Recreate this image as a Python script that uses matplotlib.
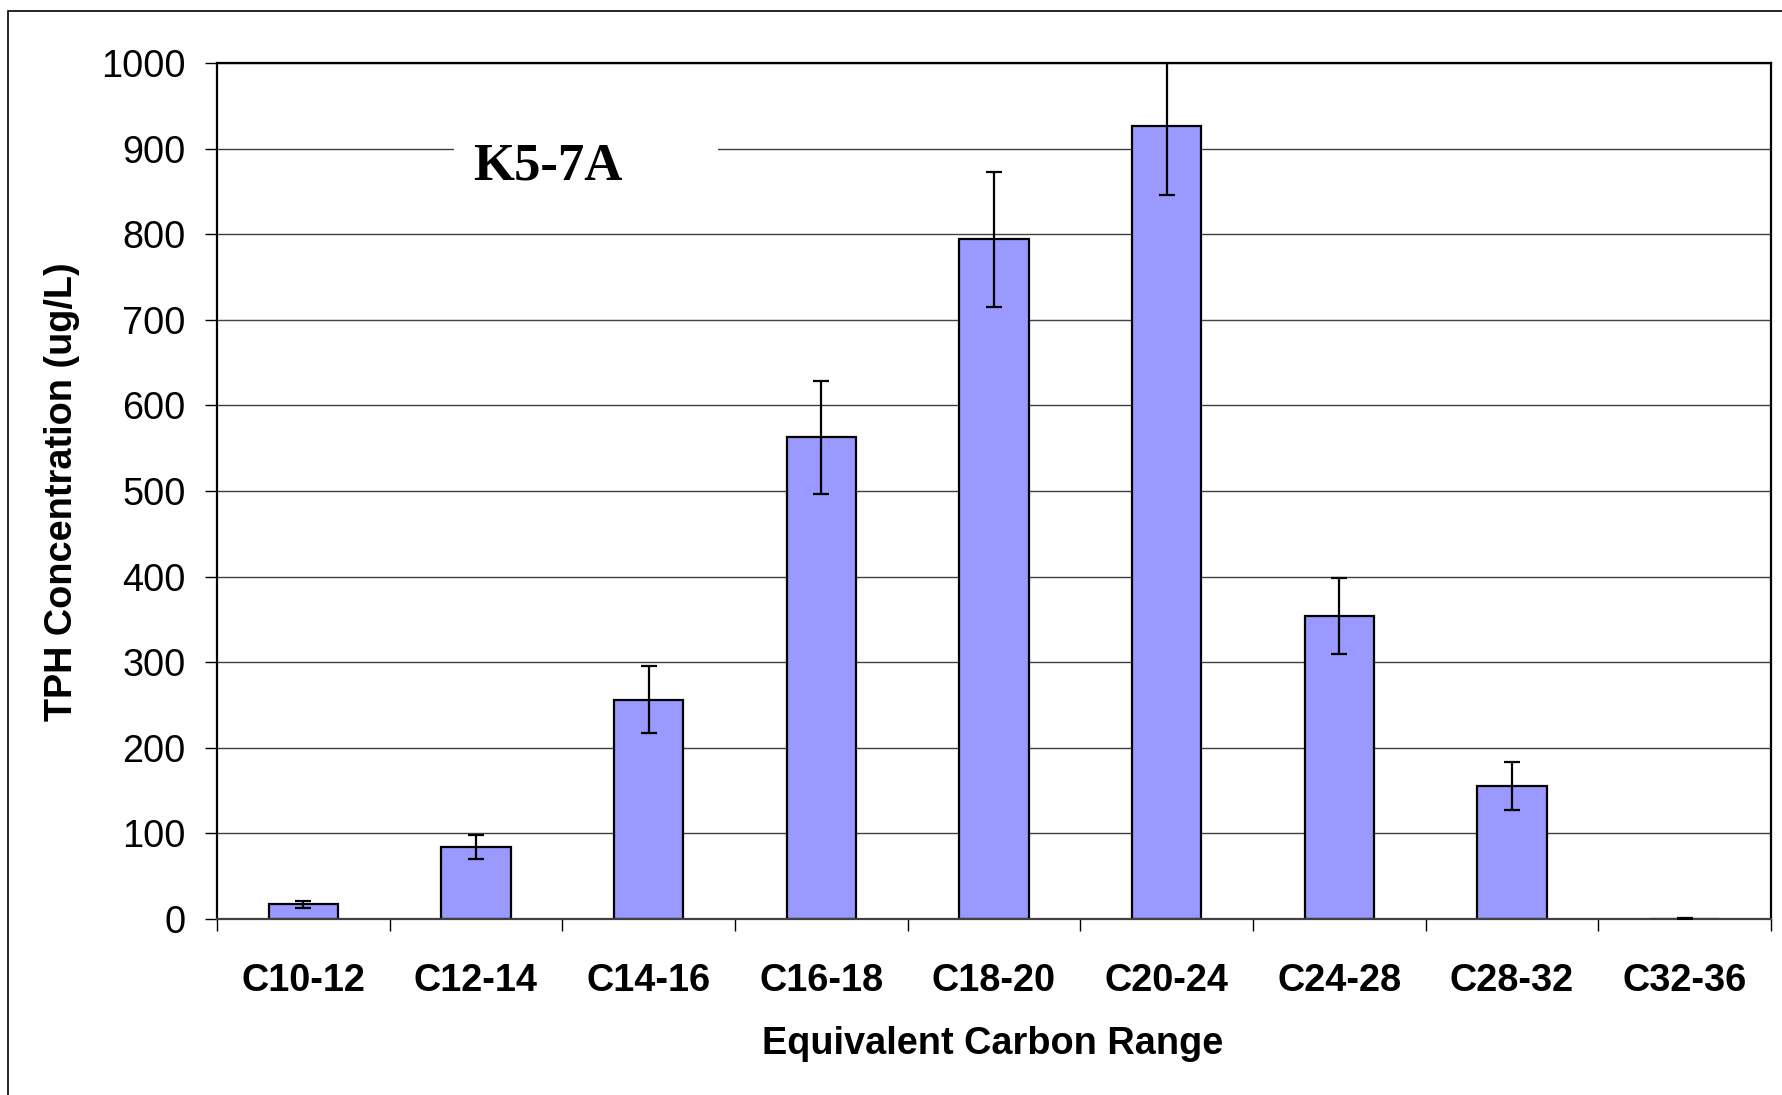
import matplotlib
matplotlib.use("Agg")
import matplotlib.pyplot as plt
from matplotlib.patches import Rectangle
import numpy as np

categories = ["C10-12", "C12-14", "C14-16", "C16-18", "C18-20", "C20-24", "C24-28", "C28-32", "C32-36"]
values = [17, 84, 256, 563, 794, 926, 354, 155, 0.3]
errors = [4, 14, 39, 66, 79, 80, 44, 28, 0.3]
yticks = [0, 100, 200, 300, 400, 500, 600, 700, 800, 900, 1000]
title_text = "K5-7A"

W, H = 1783, 1095
fig = plt.figure(figsize=(W / 100, H / 100), dpi=100)
L, R, T, B = 217, 1771, 63, 919
ax = fig.add_axes([L / W, (H - B) / H, (R - L) / W, (B - T) / H])

FS = 27.3
x = np.arange(len(categories))
ax.bar(x, values, width=0.4, color="#9999FF", edgecolor="black", linewidth=1.6, zorder=2)
ax.errorbar(x, values, yerr=errors, fmt="none", ecolor="black", elinewidth=1.6,
            capsize=5.8, capthick=1.6, zorder=3)

ax.set_xlim(-0.5, len(categories) - 0.5)
ax.set_ylim(0, 1000)
ax.set_yticks(yticks)
ax.set_yticklabels([str(v) for v in yticks], fontsize=FS, family="Liberation Sans")
ax.tick_params(axis="y", direction="out", length=8.6, width=1, pad=14)

ax.set_xticks(np.arange(len(categories) + 1) - 0.5)
ax.set_xticklabels([])
ax.tick_params(axis="x", which="major", direction="out", length=8.6, width=1)
ax.set_xticks(x, minor=True)
ax.set_xticklabels(categories, minor=True, fontsize=FS, fontweight="bold", family="Liberation Sans")
ax.tick_params(axis="x", which="minor", length=0, pad=31.5)

ax.yaxis.grid(True, color="#404040", linewidth=1.0)
ax.set_axisbelow(True)
for s in ax.spines.values():
    s.set_color("black")
    s.set_linewidth(1.6)
ax.spines["bottom"].set_color("#404040")

ax.set_xlabel("Equivalent Carbon Range", fontsize=FS, fontweight="bold", family="Liberation Sans")
ax.xaxis.label.set_va("center")
ax.xaxis.set_label_coords((993 - L) / (R - L), (B - 1044) / (B - T))
ax.set_ylabel("TPH Concentration (ug/L)", fontsize=FS, fontweight="bold", family="Liberation Sans")
ax.yaxis.label.set_va("center")
ax.yaxis.set_label_coords((62 - L) / (R - L), (B - 492) / (B - T))

# white box behind the title covering the gridline
ax.add_patch(Rectangle(((454 - L) / (R - L), (B - 200) / (B - T)), (718 - 454) / (R - L),
                       80 / (B - T), transform=ax.transAxes, facecolor="white",
                       edgecolor="none", zorder=1.5))
ax.text((548 - L) / (R - L), (B - 166) / (B - T), title_text, transform=ax.transAxes,
        ha="center", va="center", fontsize=38, fontweight="bold", family="Liberation Serif",
        zorder=4)

# outer chart frame
fig.patches.append(Rectangle((8 / W, -0.1), 1.2, (1 - 11 / H) + 0.1, transform=fig.transFigure,
                             facecolor="none", edgecolor="black", linewidth=1.2, zorder=0))

fig.savefig("out.png", dpi=100)
